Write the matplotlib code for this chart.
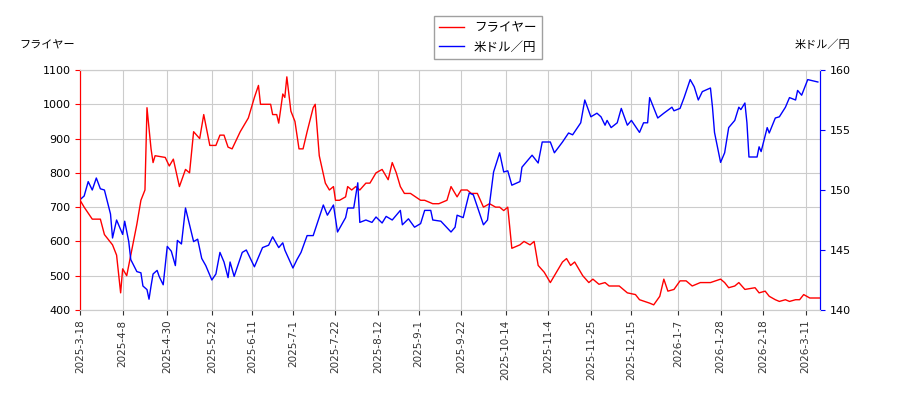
import datetime as dt

import matplotlib
matplotlib.use("Agg")
import matplotlib.pyplot as plt

plt.rcParams["font.family"] = ["Noto Sans CJK JP", "DejaVu Sans"]

START = dt.date(2025, 3, 18)

# days since START, value
fryer_days = [0, 2, 6, 10, 12, 16, 18, 20, 21, 23, 25, 28, 30, 32, 33, 35, 36, 37, 42, 44,
              46, 49, 52, 54, 56, 59, 61, 64, 67, 69, 71, 73, 75, 79, 83, 86, 88, 89, 94, 95,
              97, 98, 100, 101, 102, 104, 106, 108, 110, 112, 115, 116, 118, 121, 123, 125, 126, 128, 131, 132,
              134, 136, 138, 141, 143, 146, 149, 152, 154, 156, 158, 160, 163, 168, 170, 174, 177, 181, 183, 186,
              188, 191, 193, 196, 199, 202, 205, 207, 209, 211, 213, 217, 219, 222, 224, 226, 229, 232, 234, 238,
              240, 242, 244, 246, 248, 251, 253, 256, 259, 261, 266, 270, 274, 276, 281, 283, 286, 288, 290, 293,
              296, 299, 302, 306, 311, 316, 318, 320, 323, 325, 328, 333, 335, 338, 340, 343, 345, 348, 350, 353,
              355, 357, 360, 365]
fryer = [720, 700, 665, 665, 620, 590, 560, 450, 520, 500, 560, 650, 720, 750, 990, 870, 830, 850, 845, 820,
         840, 760, 810, 800, 920, 900, 970, 880, 880, 910, 910, 875, 870, 920, 960, 1020, 1055, 1000, 1000, 970,
         970, 945, 1030, 1020, 1080, 980, 950, 870, 870, 920, 990, 1000, 850, 770, 750, 760, 720, 720, 730, 760,
         750, 760, 750, 770, 770, 800, 810, 780, 830, 800, 760, 740, 740, 720, 720, 710, 710, 720, 760, 730,
         750, 750, 740, 740, 700, 710, 700, 700, 690, 700, 580, 590, 600, 590, 600, 530, 510, 480, 500, 540,
         550, 530, 540, 520, 500, 480, 490, 475, 480, 470, 470, 450, 445, 430, 420, 415, 440, 490, 455, 460,
         485, 485, 470, 480, 480, 490, 480, 465, 470, 480, 460, 465, 450, 455, 440, 430, 425, 430, 425, 430,
         430, 445, 435, 435]

usd_days = [0, 2, 4, 6, 8, 10, 12, 15, 16, 18, 21, 22, 24, 25, 28, 30, 31, 33, 34, 35,
            36, 38, 39, 41, 43, 45, 47, 48, 50, 52, 56, 58, 60, 62, 65, 67, 69, 71, 73, 74,
            76, 80, 82, 86, 90, 93, 95, 98, 100, 101, 105, 107, 109, 112, 115, 120, 122, 125, 127, 131,
            132, 135, 137, 138, 141, 144, 146, 149, 151, 154, 158, 159, 162, 165, 168, 170, 173, 174, 178, 183,
            185, 186, 189, 192, 194, 199, 201, 204, 207, 209, 211, 213, 217, 218, 223, 226, 228, 232, 234, 238,
            241, 243, 247, 249, 252, 255, 257, 259, 260, 262, 265, 267, 270, 272, 276, 278, 280, 281, 285, 288,
            292, 293, 296, 298, 301, 303, 305, 307, 311, 312, 313, 316, 318, 320, 323, 325, 326, 328, 329, 330,
            334, 335, 336, 339, 340, 343, 345, 348, 350, 353, 354, 356, 359, 364]
usd = [149.2, 149.5, 150.7, 150.0, 151.0, 150.1, 150.0, 148.0, 146.0, 147.5, 146.3, 147.4, 145.7, 144.2, 143.2, 143.1, 142.0, 141.7, 140.9, 142.0,
       143.0, 143.3, 142.8, 142.1, 145.3, 144.9, 143.7, 145.8, 145.5, 148.5, 145.7, 145.9, 144.3, 143.7, 142.5, 143.0, 144.8, 144.0, 142.7, 144.0,
       142.8, 144.8, 145.0, 143.6, 145.2, 145.4, 146.1, 145.2, 145.6, 145.0, 143.5, 144.2, 144.8, 146.2, 146.2, 148.75, 147.9, 148.75, 146.5, 147.7,
       148.5, 148.5, 150.6, 147.3, 147.5, 147.3, 147.75, 147.25, 147.8, 147.5, 148.3, 147.1, 147.6, 146.9, 147.2, 148.3, 148.3, 147.5, 147.4, 146.5,
       146.9, 147.9, 147.7, 149.75, 149.6, 147.1, 147.5, 151.5, 153.1, 151.5, 151.6, 150.4, 150.7, 151.9, 152.9, 152.25, 154.0, 154.0, 153.1, 154.0,
       154.75, 154.6, 155.6, 157.5, 156.1, 156.4, 156.1, 155.4, 155.8, 155.2, 155.6, 156.8, 155.4, 155.8, 154.8, 155.6, 155.6, 157.7, 156.0, 156.4,
       156.9, 156.6, 156.8, 157.7, 159.2, 158.6, 157.5, 158.2, 158.5, 156.9, 154.8, 152.3, 153.1, 155.2, 155.8, 156.9, 156.7, 157.25, 155.6, 152.75,
       152.75, 153.6, 153.2, 155.2, 154.75, 156.0, 156.1, 156.9, 157.7, 157.5, 158.3, 157.9, 159.2, 159.0]

tick_labels = ["2025-3-18", "2025-4-8", "2025-4-30", "2025-5-22", "2025-6-11", "2025-7-1",
               "2025-7-22", "2025-8-12", "2025-9-1", "2025-9-22", "2025-10-14", "2025-11-4",
               "2025-11-25", "2025-12-15", "2026-1-7", "2026-1-28", "2026-2-18", "2026-3-11"]

fryer_dates = [START + dt.timedelta(days=d) for d in fryer_days]
usd_dates = [START + dt.timedelta(days=d) for d in usd_days]
tick_dates = [dt.date(*map(int, s.split("-"))) for s in tick_labels]

fig = plt.figure(figsize=(9, 4), dpi=100)
ax = fig.add_axes([0.089, 0.225, 0.822, 0.6])
ax2 = ax.twinx()

l1, = ax.plot(fryer_dates, fryer, color="red", lw=1, label="フライヤー")
l2, = ax2.plot(usd_dates, usd, color="blue", lw=1, label="米ドル／円")

ax.set_xlim(START, START + dt.timedelta(days=365))
ax.set_ylim(400, 1100)
ax.set_yticks(range(400, 1101, 100))
ax2.set_ylim(140, 160)
ax2.set_yticks(range(140, 161, 5))
ax.set_xticks(tick_dates)
ax.set_xticklabels(tick_labels, rotation=90, fontsize=7.5, family="DejaVu Sans")
for t in ax.get_yticklabels() + ax2.get_yticklabels():
    t.set_fontsize(8)
    t.set_family("DejaVu Sans")
ax.grid(True, color="#cccccc", lw=0.8)
ax.set_axisbelow(True)

for a in (ax, ax2):
    a.spines["top"].set_color("#cccccc")
    a.spines["bottom"].set_color("#cccccc")
    a.spines["left"].set_color("red")
    a.spines["right"].set_color("blue")
ax.tick_params(axis="y", colors="red", labelcolor="black")
ax2.tick_params(axis="y", colors="blue", labelcolor="black")
ax.tick_params(axis="x", colors="#333333")

fig.text(0.022, 0.887, "フライヤー", fontsize=8, va="center")
fig.text(0.945, 0.887, "米ドル／円", fontsize=8, va="center", ha="right")
fig.legend(handles=[l1, l2], loc="upper center", bbox_to_anchor=(0.542, 0.975),
           fontsize=9, fancybox=False, edgecolor="#888888")

fig.savefig("out.png", dpi=100)
